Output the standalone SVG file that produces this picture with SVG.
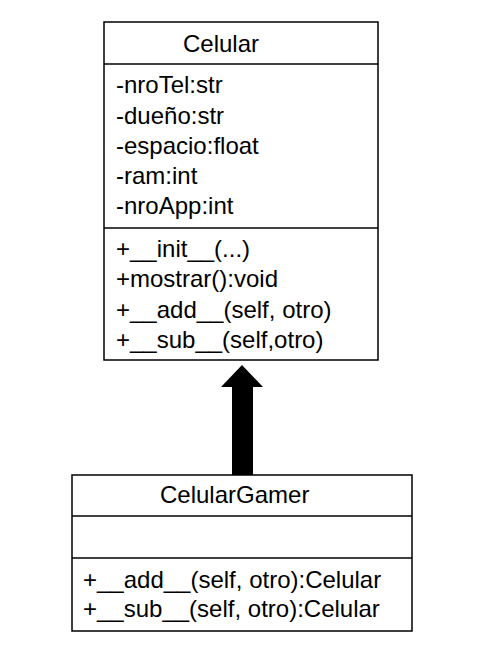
<svg xmlns="http://www.w3.org/2000/svg" width="488" height="663" viewBox="0 0 488 663">
<style>
.box{fill:#fff;stroke:#000;stroke-width:1.5}
.div{stroke:#000;stroke-width:1.5}
text{font-family:"Liberation Sans",Arial,sans-serif;font-size:24px;fill:#000}
</style>
<rect width="488" height="663" fill="#fff"/>
<g id="connectors">
<polygon points="242,365 263,387 253,387 253,475 232,475 232,387 221,387" fill="#000"/>
</g>
<g id="Celular">
<rect class="box" x="104" y="22" width="274" height="338"/>
<line class="div" x1="104" y1="64" x2="378" y2="64"/>
<line class="div" x1="104" y1="228" x2="378" y2="228"/>
<text x="183" y="52">Celular</text>
<text x="116" y="93">-nroTel:str</text>
<text x="116" y="124">-dueño:str</text>
<text x="116" y="154">-espacio:float</text>
<text x="116" y="184">-ram:int</text>
<text x="116" y="214">-nroApp:int</text>
<text x="116" y="257">+__init__(...)</text>
<text x="116" y="287">+mostrar():void</text>
<text x="116" y="318">+__add__(self, otro)</text>
<text x="116" y="348">+__sub__(self,otro)</text>
</g>
<g id="CelularGamer">
<rect class="box" x="72" y="475" width="340" height="156"/>
<line class="div" x1="72" y1="516" x2="412" y2="516"/>
<line class="div" x1="72" y1="558" x2="412" y2="558"/>
<text x="160" y="503">CelularGamer</text>
<text x="83" y="588">+__add__(self, otro):Celular</text>
<text x="83" y="617">+__sub__(self, otro):Celular</text>
</g>
</svg>
